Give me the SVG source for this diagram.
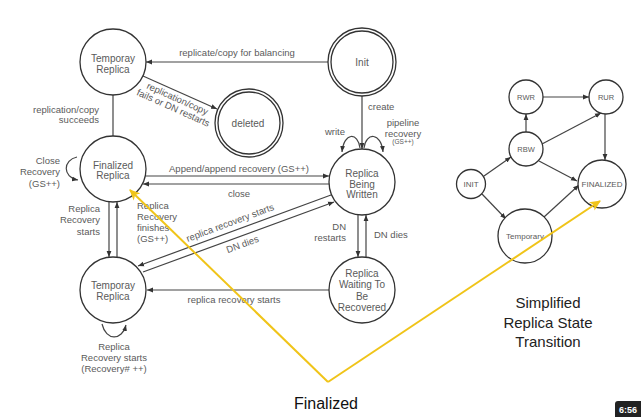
<svg xmlns="http://www.w3.org/2000/svg" width="641" height="417" viewBox="0 0 641 417">
<defs>
<style>
.n{fill:#fff;stroke:#333;stroke-width:1.3}
.t{font-family:"Liberation Sans",Arial,sans-serif;font-size:10px;fill:#5a5a5a;text-anchor:middle}
.l{font-family:"Liberation Sans",Arial,sans-serif;font-size:9.5px;fill:#5a5a5a}
.s{font-family:"Liberation Sans",Arial,sans-serif;font-size:7.5px;fill:#5a5a5a;text-anchor:middle}
.e{fill:none;stroke:#444;stroke-width:1.2}
.y{fill:none;stroke:#f0c419;stroke-width:2}
.m{text-anchor:middle}
.r{text-anchor:end}
</style>
<marker id="a" viewBox="0 0 10 10" refX="10" refY="5" markerWidth="6" markerHeight="6" orient="auto" markerUnits="userSpaceOnUse"><path d="M0,1 L10,5 L0,9 z" fill="#333"/></marker>
<marker id="ya" viewBox="0 0 10 10" refX="9" refY="5" markerWidth="11" markerHeight="11" orient="auto" markerUnits="userSpaceOnUse"><path d="M0,0.5 L10,5 L0,9.5 L2.5,5 z" fill="#f0c419"/></marker>
</defs>
<rect width="641" height="417" fill="#fff"/>

<g id="connectors">
<path class="e" d="M329,62 L146,62" marker-end="url(#a)"/>
<path class="e" d="M143,76 L217,109" marker-end="url(#a)"/>
<path class="e" d="M113,95 L113,136"/>
<path class="e" d="M77,157 C63,160 62,177 78,180" marker-end="url(#a)"/>
<path class="e" d="M146,176 L329,176" marker-end="url(#a)"/>
<path class="e" d="M330,184 L143,184" marker-end="url(#a)"/>
<path class="e" d="M331,195 L138,266" marker-end="url(#a)"/>
<path class="e" d="M143,272 L334,202" marker-end="url(#a)"/>
<path class="e" d="M109,202 L109,257" marker-end="url(#a)"/>
<path class="e" d="M117,257 L117,202" marker-end="url(#a)"/>
<path class="e" d="M362,96 L362,149" marker-end="url(#a)"/>
<path class="e" d="M360,148 C358,132 344,132 342,152" marker-end="url(#a)"/>
<path class="e" d="M364,148 C366,132 381,132 383,152" marker-end="url(#a)"/>
<path class="e" d="M358,215 L358,257" marker-end="url(#a)"/>
<path class="e" d="M366,257 L366,215" marker-end="url(#a)"/>
<path class="e" d="M329,290 L147,290" marker-end="url(#a)"/>
<path class="e" d="M102,324 C106,341 122,341 126,325" marker-end="url(#a)"/>
<!-- simplified -->
<path class="e" d="M543,97 L589,97" marker-end="url(#a)"/>
<path class="e" d="M526,132 L526,114" marker-end="url(#a)"/>
<path class="e" d="M542,144 L601,113" marker-end="url(#a)"/>
<path class="e" d="M605,114 L605,160" marker-end="url(#a)"/>
<path class="e" d="M539,161 L577,181" marker-end="url(#a)"/>
<path class="e" d="M484,176 L511,157" marker-end="url(#a)"/>
<path class="e" d="M482,194 L506,219" marker-end="url(#a)"/>
<path class="e" d="M544,217 L579,185" marker-end="url(#a)"/>
</g>

<g id="temp-top"><circle class="n" cx="113" cy="62" r="33"/><text class="t" x="113" y="61.5">Temporay</text><text class="t" x="113" y="72.5">Replica</text></g>
<g id="init"><circle class="n" cx="362" cy="62" r="34"/><circle class="n" cx="362" cy="62" r="31"/><text class="t" x="362" y="65.5">Init</text></g>
<g id="deleted"><circle class="n" cx="249" cy="123" r="34"/><circle class="n" cx="249" cy="123" r="31"/><text class="t" x="248" y="126.5">deleted</text></g>
<g id="finalized"><circle class="n" cx="113" cy="169" r="33"/><text class="t" x="113" y="168.5">Finalized</text><text class="t" x="113" y="179">Replica</text></g>
<g id="rbw"><circle class="n" cx="362" cy="182" r="33"/><text class="t" x="362" y="176.5">Replica</text><text class="t" x="362" y="187.5">Being</text><text class="t" x="362" y="198">Written</text></g>
<g id="temp-bottom"><circle class="n" cx="113" cy="290" r="33"/><text class="t" x="113" y="288.5">Temporay</text><text class="t" x="113" y="299.5">Replica</text></g>
<g id="waiting"><circle class="n" cx="362" cy="290" r="33"/><text class="t" x="362" y="276.5">Replica</text><text class="t" x="362" y="288">Waiting To</text><text class="t" x="362" y="299.5">Be</text><text class="t" x="362" y="310.5">Recovered</text></g>

<g id="s-rwr"><circle class="n" cx="526" cy="97" r="17"/><text class="s" x="526" y="100">RWR</text></g>
<g id="s-rur"><circle class="n" cx="606" cy="97" r="17"/><text class="s" x="606" y="100">RUR</text></g>
<g id="s-rbw"><circle class="n" cx="526" cy="149" r="17"/><text class="s" x="526" y="152">RBW</text></g>
<g id="s-init"><circle class="n" cx="471" cy="184" r="14.5"/><text class="s" x="471" y="187" style="font-size:8px">INIT</text></g>
<g id="s-finalized"><circle class="n" cx="602" cy="184" r="24"/><text class="s" x="602" y="187" style="font-size:8px">FINALIZED</text></g>
<g id="s-temporary"><circle class="n" cx="525" cy="236" r="27"/><text class="s" x="525" y="239" style="font-size:8px">Temporary</text></g>

<g id="labels">
<text class="l m" x="237" y="55.5">replicate/copy for balancing</text>
<text class="l r" x="99" y="112.5">replication/copy</text>
<text class="l r" x="99" y="123">succeeds</text>
<g transform="translate(177.5,98.5) rotate(24)"><text class="l m" x="0" y="3.5">replication/copy</text><text class="l m" x="0" y="13.5">fails or DN restarts</text></g>
<text class="l r" x="60" y="163.5">Close</text>
<text class="l r" x="60" y="175">Recovery</text>
<text class="l r" x="60" y="186.5">(GS++)</text>
<text class="l r" x="345" y="134.5">write</text>
<text class="l" x="368" y="109.5">create</text>
<text class="l m" x="403" y="125.5">pipeline</text>
<text class="l m" x="403" y="136.5">recovery</text>
<text class="l m" x="403" y="144" style="font-size:6.5px">(GS++)</text>
<text class="l m" x="239" y="171.5">Append/append recovery (GS++)</text>
<text class="l m" x="239" y="196.5">close</text>
<text class="l r" x="100" y="211.5">Replica</text>
<text class="l r" x="100" y="223">Recovery</text>
<text class="l r" x="100" y="234.5">starts</text>
<text class="l" x="137" y="208.5">Replica</text>
<text class="l" x="137" y="219.5">Recovery</text>
<text class="l" x="137" y="230.5">finishes</text>
<text class="l" x="137" y="241.5">(GS++)</text>
<g transform="translate(230,222.5) rotate(-20.5)"><text class="l m" x="0" y="3.5">replica recovery starts</text><text class="l m" x="4" y="28">DN dies</text></g>
<text class="l r" x="346" y="229.5">DN</text>
<text class="l r" x="346" y="240.5">restarts</text>
<text class="l" x="374" y="237.5">DN dies</text>
<text class="l m" x="234" y="302.5">replica recovery starts</text>
<text class="l m" x="114" y="349.5">Replica</text>
<text class="l m" x="114" y="360.5">Recovery starts</text>
<text class="l m" x="114" y="371.5">(Recovery# ++)</text>
</g>

<g id="title" font-family="'Liberation Sans',Arial,sans-serif" fill="#222" text-anchor="middle" font-size="15">
<text x="548" y="308">Simplified</text>
<text x="548" y="328">Replica State</text>
<text x="548" y="347">Transition</text>
</g>

<g id="highlight">
<path class="y" d="M328,382 L130,190" marker-end="url(#ya)"/>
<path class="y" d="M328,382 L600,201" marker-end="url(#ya)"/>
<text x="326" y="409" font-family="'Liberation Sans',Arial,sans-serif" font-size="16" fill="#111" text-anchor="middle">Finalized</text>
</g>

<g id="timestamp">
<path d="M615,417 L615,404 Q615,401 618,401 L641,401 L641,417 z" fill="#222"/>
<text x="619" y="413" font-family="'Liberation Sans',Arial,sans-serif" font-size="9" font-weight="bold" fill="#fff">6:56</text>
</g>
</svg>
